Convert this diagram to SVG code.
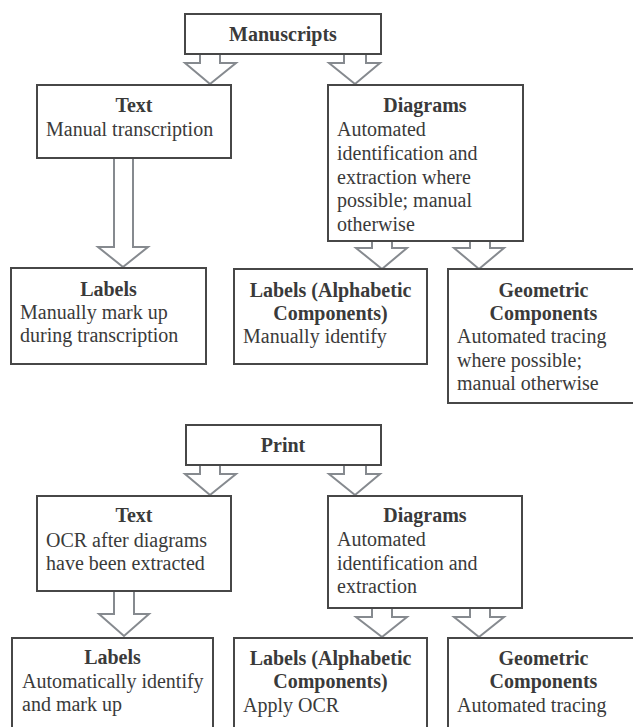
<svg xmlns="http://www.w3.org/2000/svg" width="633" height="727" viewBox="0 0 633 727">
<style>
.box{fill:#fff;stroke:#474747;stroke-width:2}
.arr{fill:#fff;stroke:#868a8f;stroke-width:2;stroke-linejoin:miter}
text{font-family:"Liberation Serif","Times New Roman",serif;font-size:20px;fill:#3a3a3a}
.t{font-weight:bold;text-anchor:middle}
</style>
<rect width="633" height="727" fill="#fff"/>
<g id="connectors">
<path class="arr" d="M200,54 V63 H185 L210,84 L236,63 H220 V54"/>
<path class="arr" d="M344,54 V63 H329 L355,84 L380,63 H366 V54"/>
<path class="arr" d="M114,158 V247 H98 L123,267 L148,247 H133 V158"/>
<path class="arr" d="M372,241 V248 H356 L382,269 L407,248 H392 V241"/>
<path class="arr" d="M470,241 V248 H454 L479,269 L504,248 H490 V241"/>
<path class="arr" d="M200,465 V474 H185 L210,495 L236,474 H220 V465"/>
<path class="arr" d="M344,465 V474 H329 L355,495 L380,474 H366 V465"/>
<path class="arr" d="M114,591 V614 H99 L124,636 L149,614 H134 V591"/>
<path class="arr" d="M372,608 V617 H356 L382,637 L407,617 H392 V608"/>
<path class="arr" d="M470,608 V617 H454 L479,637 L504,617 H490 V608"/>
</g>
<g id="manuscripts">
<rect class="box" x="185" y="14" width="196" height="40"/>
<text class="t" x="283" y="41">Manuscripts</text>
</g>
<g id="text1">
<rect class="box" x="37" y="85" width="194" height="73"/>
<text class="t" x="134" y="112">Text</text>
<text x="46" y="136">Manual transcription</text>
</g>
<g id="diagrams1">
<rect class="box" x="328" y="85" width="195" height="156"/>
<text class="t" x="425" y="112">Diagrams</text>
<text x="337" y="136">Automated</text>
<text x="337" y="160">identification and</text>
<text x="337" y="184">extraction where</text>
<text x="337" y="207">possible; manual</text>
<text x="337" y="231">otherwise</text>
</g>
<g id="labels1">
<rect class="box" x="11" y="268" width="195" height="96"/>
<text class="t" x="108.5" y="296">Labels</text>
<text x="20" y="319">Manually mark up</text>
<text x="20" y="342">during transcription</text>
</g>
<g id="alpha1">
<rect class="box" x="234" y="269" width="193" height="95"/>
<text class="t" x="330.5" y="297">Labels (Alphabetic</text>
<text class="t" x="330.5" y="320">Components)</text>
<text x="243" y="343">Manually identify</text>
</g>
<g id="geom1">
<rect class="box" x="448" y="269" width="191" height="134"/>
<text class="t" x="543.5" y="297">Geometric</text>
<text class="t" x="543.5" y="320">Components</text>
<text x="457" y="343">Automated tracing</text>
<text x="457" y="367">where possible;</text>
<text x="457" y="390">manual otherwise</text>
</g>
<g id="print">
<rect class="box" x="186" y="425" width="195" height="40"/>
<text class="t" x="283" y="452">Print</text>
</g>
<g id="text2">
<rect class="box" x="37" y="496" width="194" height="95"/>
<text class="t" x="134" y="522">Text</text>
<text x="46" y="547">OCR after diagrams</text>
<text x="46" y="570">have been extracted</text>
</g>
<g id="diagrams2">
<rect class="box" x="328" y="496" width="194" height="112"/>
<text class="t" x="425" y="522">Diagrams</text>
<text x="337" y="546">Automated</text>
<text x="337" y="570">identification and</text>
<text x="337" y="593">extraction</text>
</g>
<g id="labels2">
<rect class="box" x="12" y="638" width="201" height="110"/>
<text class="t" x="112.5" y="664">Labels</text>
<text x="22" y="688">Automatically identify</text>
<text x="22" y="711">and mark up</text>
</g>
<g id="alpha2">
<rect class="box" x="234" y="638" width="193" height="110"/>
<text class="t" x="330.5" y="665">Labels (Alphabetic</text>
<text class="t" x="330.5" y="688">Components)</text>
<text x="243" y="712">Apply OCR</text>
</g>
<g id="geom2">
<rect class="box" x="448" y="638" width="191" height="110"/>
<text class="t" x="543.5" y="665">Geometric</text>
<text class="t" x="543.5" y="688">Components</text>
<text x="457" y="712">Automated tracing</text>
</g>
</svg>
